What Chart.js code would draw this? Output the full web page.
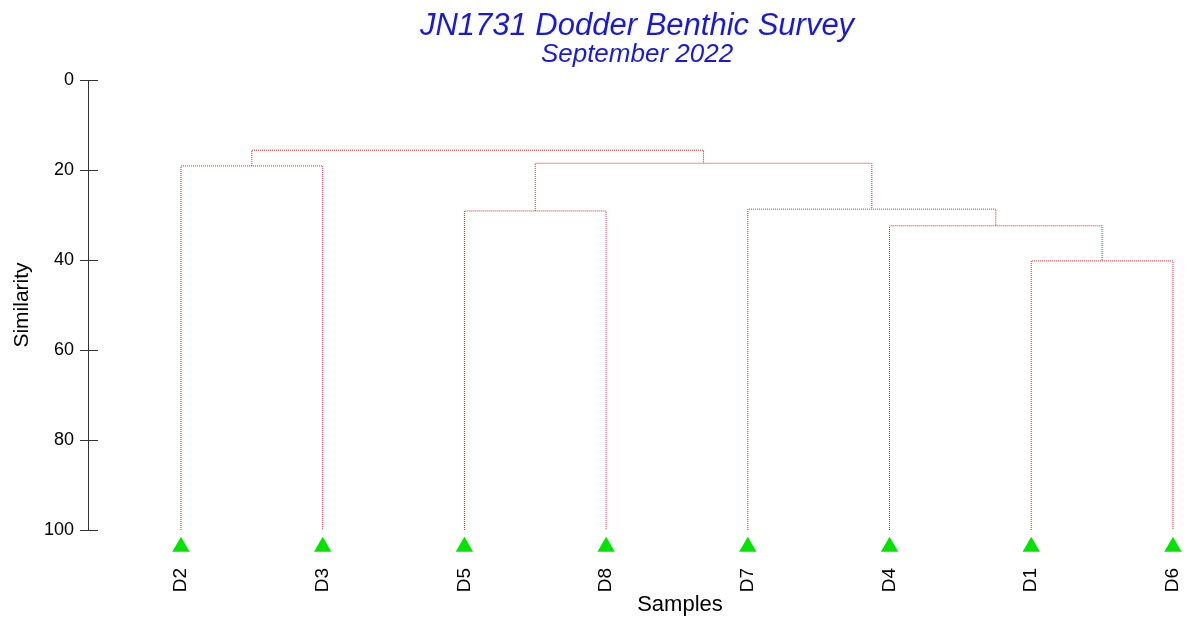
<!DOCTYPE html>
<html>
<head>
<meta charset="utf-8">
<title>JN1731 Dodder Benthic Survey</title>
<script src="https://cdn.jsdelivr.net/npm/chart.js@4/dist/chart.umd.min.js"></script>
<style>
  html, body { margin: 0; padding: 0; background: #fff; }
  #wrap { width: 1186px; height: 619px; }
</style>
</head>
<body>
<div id="wrap"><canvas id="grafico"></canvas></div>
<script>
// leaf order along the x axis
const samples = ['D2', 'D3', 'D5', 'D8', 'D7', 'D4', 'D1', 'D6'];

// merges: nodes 0..7 are the samples, each merge makes node 8, 9, ...
const mergeLeft = [6, 5, 2, 4, 0, 10, 12];
const mergeRight = [7, 8, 3, 9, 1, 11, 13];
const mergeSimilarity = [40.2, 32.4, 29.1, 28.7, 19.1, 18.5, 15.6];

const yTicks = [0, 20, 40, 60, 80, 100];
const leafLevel = 100;
const markerLevel = 103.7;

const LINE_COLOR = 'rgb(205, 40, 40)';
const MARKER_COLOR = 'rgb(0, 228, 0)';
const FONT = 'Liberation Sans, Arial, sans-serif';

// position and height of every node
const nodeX = samples.map((s, i) => i);
const nodeY = samples.map(() => leafLevel);
mergeLeft.forEach((l, k) => {
  const r = mergeRight[k];
  nodeX.push((nodeX[l] + nodeX[r]) / 2);
  nodeY.push(mergeSimilarity[k]);
});

const datasets = mergeLeft.map((l, k) => {
  const r = mergeRight[k];
  const h = mergeSimilarity[k];
  return {
    data: [
      { x: nodeX[l], y: nodeY[l] },
      { x: nodeX[l], y: h },
      { x: nodeX[r], y: h },
      { x: nodeX[r], y: nodeY[r] }
    ],
    borderColor: LINE_COLOR,
    borderWidth: 1,
    borderDash: [1, 1],
    pointRadius: 0,
    tension: 0,
    fill: false,
    clip: false
  };
});

// green triangles under the leaves (below the axis end, so drawn here)
const leafMarkers = {
  id: 'leafMarkers',
  afterDatasetsDraw(chart) {
    const xs = chart.scales.x, ys = chart.scales.y;
    const ctx = chart.ctx;
    const r = 10;
    ctx.save();
    ctx.fillStyle = MARKER_COLOR;
    samples.forEach((s, i) => {
      const px = xs.getPixelForValue(i);
      const py = ys.getPixelForValue(markerLevel);
      ctx.beginPath();
      ctx.moveTo(px, py - r);
      ctx.lineTo(px + r * Math.sin(Math.PI * 2 / 3), py + r / 2);
      ctx.lineTo(px - r * Math.sin(Math.PI * 2 / 3), py + r / 2);
      ctx.closePath();
      ctx.fill();
    });
    ctx.restore();
  }
};

// small ticks on the inner side of the y axis, and the x title centred on the samples
const axisExtras = {
  id: 'axisExtras',
  afterDraw(chart) {
    const xs = chart.scales.x, ys = chart.scales.y;
    const ctx = chart.ctx;
    ctx.save();
    ctx.strokeStyle = '#333';
    ctx.lineWidth = 1;
    ys.ticks.forEach(t => {
      const py = Math.round(ys.getPixelForValue(t.value)) + 0.5;
      ctx.beginPath();
      ctx.moveTo(ys.right, py);
      ctx.lineTo(ys.right + 10, py);
      ctx.stroke();
    });
    const cx = (xs.getPixelForValue(0) + xs.getPixelForValue(samples.length - 1)) / 2;
    ctx.fillStyle = '#000';
    ctx.font = '22px ' + FONT;
    ctx.textAlign = 'center';
    ctx.textBaseline = 'middle';
    ctx.fillText('Samples', cx + 3, 605);
    ctx.restore();
  }
};

const ctx = document.getElementById('grafico').getContext('2d');
const chart = new Chart(ctx, {
  type: 'line',
  data: { datasets: datasets },
  plugins: [leafMarkers, axisExtras],
  options: {
    responsive: true,
    maintainAspectRatio: false,
    animation: false,
    events: [],
    layout: { padding: 0 },
    plugins: {
      legend: { display: false },
      tooltip: { enabled: false },
      title: {
        display: true,
        fullSize: false,
        text: 'JN1731 Dodder Benthic Survey',
        color: 'rgb(25, 25, 215)',
        font: { family: FONT, size: 31, style: 'italic', weight: 'normal', lineHeight: 1 },
        padding: { top: 11, bottom: 0 }
      },
      subtitle: {
        display: true,
        fullSize: false,
        text: 'September 2022',
        color: 'rgb(25, 25, 215)',
        font: { family: FONT, size: 26, style: 'italic', weight: 'normal', lineHeight: 1 },
        padding: { top: 0, bottom: 12 }
      }
    },
    scales: {
      x: {
        type: 'linear',
        min: -0.656,
        max: 7.092,
        afterFit(scale) {
          scale.height = 89;
          scale.paddingLeft = 0;
          scale.paddingRight = 0;
        },
        afterBuildTicks(scale) {
          scale.ticks = samples.map((s, i) => ({ value: i }));
        },
        ticks: {
          autoSkip: false,
          maxRotation: 90,
          minRotation: 90,
          padding: 30,
          color: '#000',
          font: { family: FONT, size: 19 },
          callback: v => samples[v] ?? ''
        },
        grid: { display: false },
        border: { display: false }
      },
      y: {
        type: 'linear',
        reverse: true,
        min: 0,
        max: 100,
        afterFit(scale) { scale.width = 88; },
        afterBuildTicks(scale) {
          scale.ticks = yTicks.map(v => ({ value: v }));
        },
        ticks: {
          padding: 6,
          color: '#000',
          font: { family: FONT, size: 18 }
        },
        grid: {
          drawOnChartArea: false,
          drawTicks: true,
          tickLength: 8,
          color: '#333'
        },
        border: { display: true, color: '#333', width: 1 },
        title: {
          display: true,
          text: 'Similarity',
          color: '#000',
          font: { family: FONT, size: 21 },
          padding: { top: 10, bottom: 0 }
        }
      }
    }
  }
});
</script>
</body>
</html>
